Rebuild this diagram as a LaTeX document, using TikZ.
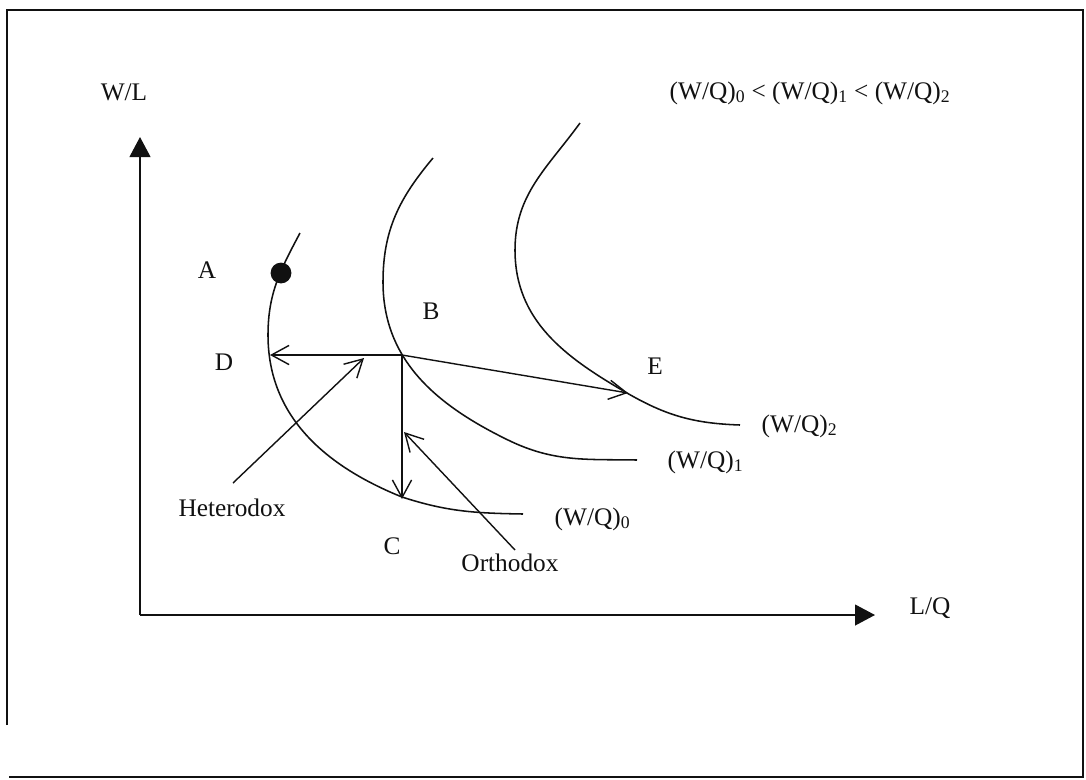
\documentclass[tikz,border=0pt]{standalone}
\usepackage{fontspec}
\setmainfont{Liberation Serif}
\usetikzlibrary{arrows.meta,positioning}
\definecolor{ink}{HTML}{111111}
\newcommand{\wq}[1]{(W/Q)\textsubscript{#1}}
\tikzset{
  lbl/.style={font=\fontsize{18}{20}\selectfont,text=ink,inner sep=1pt},
  curve/.style={line width=1.1pt,draw=ink},
  axis/.style={line width=1.3pt,draw=ink,-{Triangle[length=5mm,width=5.2mm]}},
  move/.style={line width=1pt,draw=ink,-{Straight Barb[length=4.4mm,width=4.8mm]}},
  frame/.style={line width=1.2pt,draw=ink},
  dot/.style={circle,fill=ink,inner sep=0pt,minimum size=0.52cm}
}

\begin{document}
\begin{tikzpicture}[x=0.025cm,y=-0.025cm]
  \useasboundingbox (0,0) rectangle (1086,779);
  \draw[frame] (7,725) -- (7,10) -- (1083,10) -- (1083,777) -- (9,777);

  \coordinate (orig) at (140,615);
  \coordinate (ytip) at (140,137);
  \coordinate (xtip) at (875,615);
  \draw[axis] (orig) -- (ytip);
  \draw[axis] (orig) -- (xtip);
  \node[lbl] (ylab) at (124,92) {W/L};
  \node[lbl] (xlab) at (930,608) {L/Q};
  \node[lbl,anchor=west] (order) at (668,93) {\wq{0} < \wq{1} < \wq{2}};

  \draw[curve] (300,233) to[out=242,in=90] (268,335) to[out=270,in=158] (402,497) to[out=342,in=179] (523,514);
  \draw[curve] (433,158) to[out=230,in=90] (383,282) to[out=270,in=154] (508,440) to[out=334,in=179] (637,460);
  \draw[curve] (580,123) to[out=234,in=90] (515,250) to[out=270,in=150] (627,393) to[out=330,in=178] (740,425);

  \node[dot] (adot) at (281,273) {};
  \coordinate (kink) at (402,355);
  \coordinate (dpt) at (270,355);
  \coordinate (cpt) at (402,499);
  \coordinate (ept) at (628,393);
  \draw[move] (kink) -- (dpt);
  \draw[move] (kink) -- (cpt);
  \draw[move] (kink) -- (ept);

  \node[lbl] (alab) at (207,270) {A};
  \node[lbl] (blab) at (431,311) {B};
  \node[lbl] (clab) at (392,546) {C};
  \node[lbl] (dlab) at (224,362) {D};
  \node[lbl] (elab) at (655,366) {E};
  \node[lbl,anchor=west] (w0) at (553,519) {\wq{0}};
  \node[lbl,anchor=west] (w1) at (666,462) {\wq{1}};
  \node[lbl,anchor=west] (w2) at (760,426) {\wq{2}};

  \node[lbl] (hetero) at (232,508) {Heterodox};
  \node[lbl] (ortho) at (510,563) {Orthodox};
  \coordinate (hfrom) at (233,483);
  \coordinate (hto) at (364,358);
  \coordinate (ofrom) at (515,550);
  \coordinate (oto) at (404,432);
  \draw[move] (hfrom) -- (hto);
  \draw[move] (ofrom) -- (oto);
\end{tikzpicture}
\end{document}
